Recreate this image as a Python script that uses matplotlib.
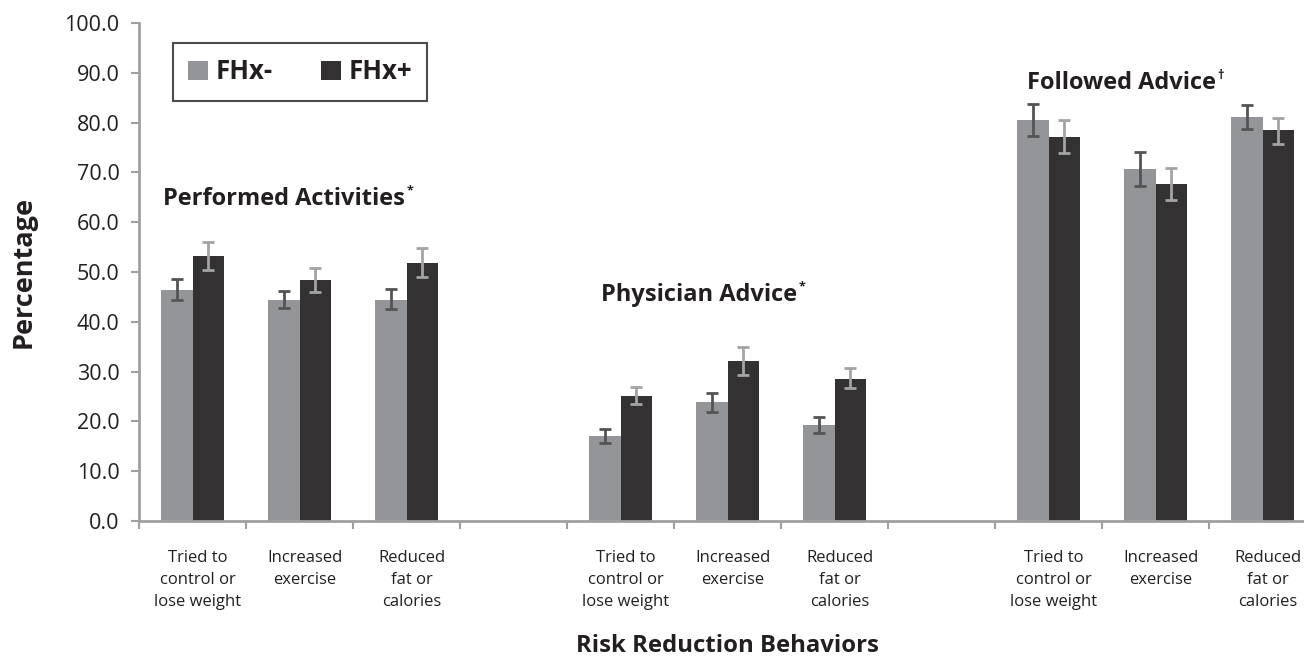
import numpy as np
import matplotlib.pyplot as plt

plt.rcParams['font.family'] = ['Open Sans', 'DejaVu Sans']

# slot index of each bar pair (gaps at slots 3 and 7)
slots = [0, 1, 2, 4, 5, 6, 8, 9, 10]
behaviors = ['Tried to\ncontrol or\nlose weight', 'Increased\nexercise', 'Reduced\nfat or\ncalories'] * 3

neg_vals = [46.4, 44.4, 44.4, 17.1, 23.9, 19.3, 80.5, 70.7, 81.1]
neg_lo = [44.3, 42.8, 42.6, 15.7, 21.8, 17.7, 77.3, 67.3, 78.8]
neg_hi = [48.5, 46.2, 46.6, 18.5, 25.8, 20.9, 83.7, 74.0, 83.5]

pos_vals = [53.2, 48.4, 51.8, 25.1, 32.1, 28.6, 77.1, 67.7, 78.5]
pos_lo = [50.4, 46.0, 48.9, 23.4, 29.4, 26.8, 73.8, 64.5, 75.8]
pos_hi = [56.0, 50.9, 54.8, 27.0, 34.9, 30.8, 80.5, 70.8, 81.0]

group_titles = ['Performed Activities', 'Physician Advice', 'Followed Advice']
group_marks = ['*', '*', '\u2020']

c_neg = '#939598'
c_pos = '#333132'
axis_c = '#a0a0a0'
txt_c = '#231f20'

fig = plt.figure(figsize=(13.04, 6.59), dpi=100)
ax = fig.add_axes([139 / 1304, 1 - 521 / 659, 1177 / 1304, 498 / 659])

x = np.array(slots) + 0.5
w = 0.29
neg_err = [np.array(neg_vals) - np.array(neg_lo), np.array(neg_hi) - np.array(neg_vals)]
pos_err = [np.array(pos_vals) - np.array(pos_lo), np.array(pos_hi) - np.array(pos_vals)]

ax.bar(x - w / 2, neg_vals, w, color=c_neg, label='FHx-', zorder=2)
ax.bar(x + w / 2, pos_vals, w, color=c_pos, label='FHx+', zorder=2)
ax.errorbar(x - w / 2, neg_vals, yerr=neg_err, fmt='none', ecolor='#545456',
            elinewidth=2, capsize=4.5, capthick=2, zorder=3)
ax.errorbar(x + w / 2, pos_vals, yerr=pos_err, fmt='none', ecolor='#a3a4a6',
            elinewidth=2, capsize=4.5, capthick=2, zorder=3)

ax.set_xlim(0, 11)
ax.set_ylim(0, 100)
ax.set_yticks(np.arange(0, 101, 10))
ax.set_yticklabels([f'{v:.1f}' for v in np.arange(0, 101, 10)], fontsize=15.5, color=txt_c)
ax.set_xticks(np.arange(0, 12, 1))
ax.set_xticklabels([])
# category labels sit slightly right of the slot centres, as in the original
ax.set_xticks(x + 0.05, minor=True)
ax.set_xticklabels(behaviors, minor=True, fontsize=12, color=txt_c, linespacing=1.5)
ax.tick_params(axis='x', which='minor', length=0, pad=21)
ax.tick_params(axis='x', which='major', length=6, width=1.5, color=axis_c, direction='out')
ax.tick_params(axis='y', length=6, width=1.5, color=axis_c, direction='out', pad=8)

for s in ['top', 'right']:
    ax.spines[s].set_visible(False)
for s in ['left', 'bottom']:
    ax.spines[s].set_color(axis_c)
    ax.spines[s].set_linewidth(2)

ax.set_ylabel('Percentage', fontsize=19.5, fontweight='bold', color=txt_c)
ax.yaxis.set_label_coords(-102 / 1177, 0.5)
fig.text(727 / 1304, 7 / 659, 'Risk Reduction Behaviors', fontsize=17.2, fontweight='bold',
         ha='center', va='baseline', color=txt_c)

leg = ax.legend(loc='upper left', bbox_to_anchor=(34 / 1177, 1 - 20 / 498), ncol=2,
                frameon=True, fancybox=False, edgecolor=txt_c,
                prop={'weight': 'bold', 'size': 18.5}, handlelength=0.75, handleheight=0.75,
                handletextpad=0.3, columnspacing=1.9, borderpad=0.6, borderaxespad=0)
leg.get_frame().set_linewidth(1.5)
for t in leg.get_texts():
    t.set_color(txt_c)

# group titles (data coords: left x, baseline y)
title_pos = [(0.224, 63.4), (4.32, 44.2), (8.30, 86.7)]
fig.canvas.draw()
renderer = fig.canvas.get_renderer()
for (tx, ty), title, mark in zip(title_pos, group_titles, group_marks):
    t = ax.text(tx, ty, title, fontsize=17, fontweight='bold', ha='left',
                va='baseline', color=txt_c)
    bb = t.get_window_extent(renderer=renderer)
    ax.annotate(mark, xy=(bb.x1, ty), xycoords=('figure pixels', 'data'), xytext=(1, 7.5),
                textcoords='offset points', fontsize=9, fontweight='bold',
                ha='left', va='baseline', color=txt_c)

fig.savefig('out.png', dpi=100)
